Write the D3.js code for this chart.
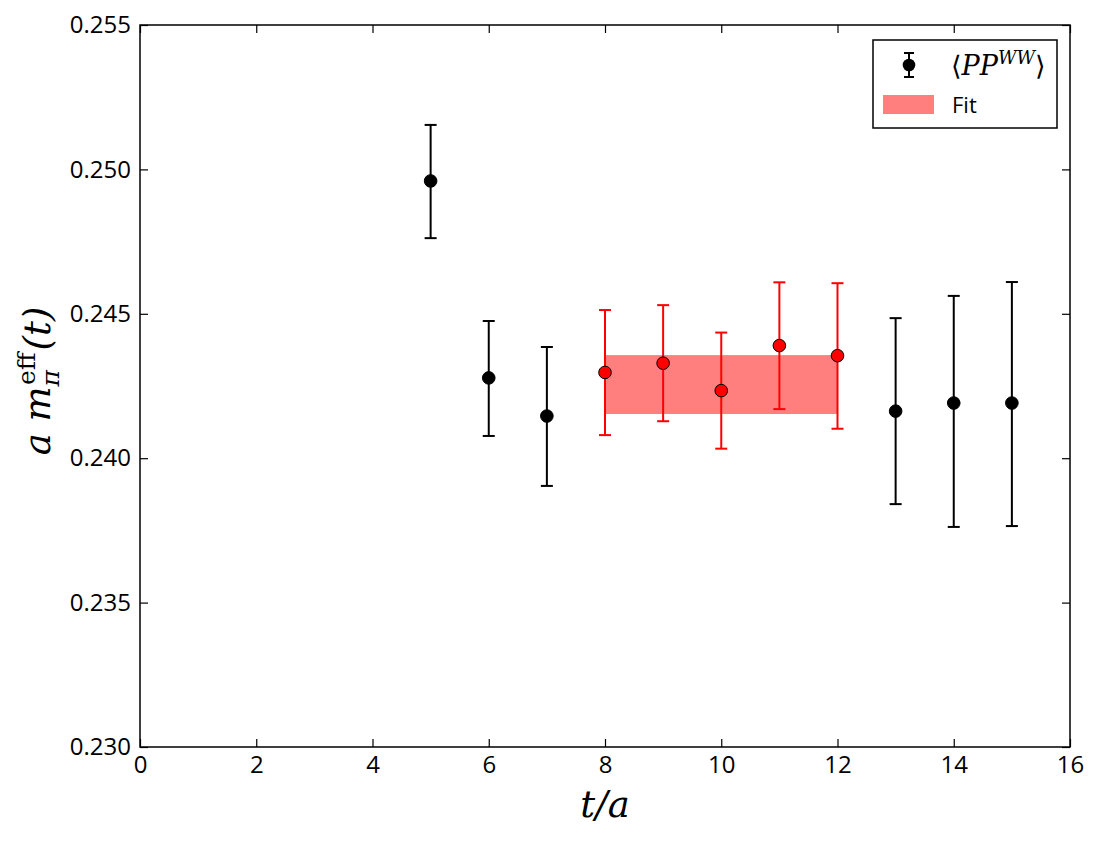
<!DOCTYPE html>
<html>
<head>
<meta charset="utf-8">
<script src="https://cdn.jsdelivr.net/npm/d3@7"></script>
<style>
  body { margin: 0; background: #fff; }
  svg text { font-family: "Open Sans", "DejaVu Sans", sans-serif; }
  .math { font-family: "DejaVu Serif", "Liberation Serif", serif; font-style: italic; }
</style>
</head>
<body>
<div id="chart"></div>
<script>
// data
const tAll = [5, 6, 7, 8, 9, 10, 11, 12, 13, 14, 15];
const meff = [0.2496, 0.24278, 0.24146, 0.24297, 0.24329, 0.24234, 0.2439, 0.24355, 0.24163, 0.24191, 0.24191];
const errLo = [0.00198, 0.00201, 0.00242, 0.00217, 0.00201, 0.00201, 0.0022, 0.00253, 0.00322, 0.00429, 0.00426];
const errHi = [0.00194, 0.00197, 0.00239, 0.00216, 0.00201, 0.00201, 0.00219, 0.00251, 0.00322, 0.00371, 0.00419];
const fitRange = [8, 12];
const fitBand = [0.24153, 0.24357];
const xTicks = [0, 2, 4, 6, 8, 10, 12, 14, 16];
const yTicks = [0.230, 0.235, 0.240, 0.245, 0.250, 0.255];

const W = 1100, H = 845;
const margin = { top: 25, right: 30, bottom: 98, left: 140 };
const width = W - margin.left - margin.right;
const height = H - margin.top - margin.bottom;

const svg = d3.select("#chart").append("svg")
  .attr("width", W).attr("height", H);
const g = svg.append("g").attr("transform", `translate(${margin.left},${margin.top})`);

const x = d3.scaleLinear().domain([0, 16]).range([0, width]);
const y = d3.scaleLinear().domain([0.230, 0.255]).range([height, 0]);

const points = tAll.map((t, i) => ({
  t, v: meff[i], lo: meff[i] - errLo[i], hi: meff[i] + errHi[i],
  inFit: t >= fitRange[0] && t <= fitRange[1]
}));

// fit band
g.append("rect")
  .attr("x", x(fitRange[0]))
  .attr("y", y(fitBand[1]))
  .attr("width", x(fitRange[1]) - x(fitRange[0]))
  .attr("height", y(fitBand[0]) - y(fitBand[1]))
  .attr("fill", "#ff0000").attr("fill-opacity", 0.5);

// error bars
const capW = 6;
const eb = g.selectAll(".eb").data(points).enter().append("g")
  .attr("stroke", d => d.inFit ? "#ff0000" : "#000")
  .attr("stroke-width", 2);
eb.append("line")
  .attr("x1", d => x(d.t)).attr("x2", d => x(d.t))
  .attr("y1", d => y(d.lo)).attr("y2", d => y(d.hi));
eb.append("line")
  .attr("x1", d => x(d.t) - capW).attr("x2", d => x(d.t) + capW)
  .attr("y1", d => y(d.lo)).attr("y2", d => y(d.lo));
eb.append("line")
  .attr("x1", d => x(d.t) - capW).attr("x2", d => x(d.t) + capW)
  .attr("y1", d => y(d.hi)).attr("y2", d => y(d.hi));

g.selectAll(".pt").data(points).enter().append("circle")
  .attr("cx", d => x(d.t)).attr("cy", d => y(d.v))
  .attr("r", 6.3)
  .attr("fill", d => d.inFit ? "#ff0000" : "#000")
  .attr("stroke", "#000").attr("stroke-width", 1);

// axes: inward ticks on all four sides
const tickLen = 8;
const styleAxis = sel => {
  sel.select(".domain").remove();
  sel.selectAll("line").attr("stroke", "#000").attr("stroke-width", 1.2);
  sel.selectAll("text").attr("fill", "#000").style("font-size", "24px");
};
g.append("g").attr("transform", `translate(0,${height})`)
  .call(d3.axisBottom(x).tickValues(xTicks).tickSize(-tickLen).tickPadding(9).tickFormat(d3.format("d")))
  .call(styleAxis);
g.append("g")
  .call(d3.axisTop(x).tickValues(xTicks).tickSize(-tickLen).tickFormat(""))
  .call(styleAxis);
g.append("g")
  .call(d3.axisLeft(y).tickValues(yTicks).tickSize(-tickLen).tickPadding(9).tickFormat(d3.format(".3f")))
  .call(styleAxis);
g.append("g").attr("transform", `translate(${width},0)`)
  .call(d3.axisRight(y).tickValues(yTicks).tickSize(-tickLen).tickFormat(""))
  .call(styleAxis);

// frame
g.append("rect").attr("width", width).attr("height", height)
  .attr("fill", "none").attr("stroke", "#000").attr("stroke-width", 1.5);

// axis labels
svg.append("text").attr("class", "math")
  .attr("x", margin.left + width / 2).attr("y", 817)
  .attr("text-anchor", "middle").style("font-size", "37px")
  .text("t/a");

const yl = svg.append("text").attr("class", "math")
  .attr("transform", `translate(50,381) rotate(-90)`)
  .attr("text-anchor", "middle").style("font-size", "37px");
yl.append("tspan").text("a m");
yl.append("tspan").attr("dy", 9).style("font-size", "25px").text("π");
yl.append("tspan").attr("dx", -15).attr("dy", -24).style("font-size", "25px").style("font-style", "normal").text("eff");
yl.append("tspan").attr("dx", 2).attr("dy", 15).text("(t)");

// legend
const lg = svg.append("g").attr("transform", "translate(873,40)");
lg.append("rect").attr("width", 184).attr("height", 88)
  .attr("fill", "#fff").attr("stroke", "#000").attr("stroke-width", 1.5);
lg.append("line").attr("x1", 36).attr("x2", 36).attr("y1", 13).attr("y2", 37)
  .attr("stroke", "#000").attr("stroke-width", 2);
[13, 37].forEach(yy => lg.append("line").attr("x1", 31).attr("x2", 41).attr("y1", yy).attr("y2", yy)
  .attr("stroke", "#000").attr("stroke-width", 2));
lg.append("circle").attr("cx", 36).attr("cy", 25).attr("r", 6.3).attr("fill", "#000");
const lt = lg.append("text").attr("x", 78).attr("y", 35).style("font-size", "27px");
lt.append("tspan").style("font-family", "DejaVu Serif, serif").text("⟨");
lt.append("tspan").attr("class", "math").text("PP");
lt.append("tspan").attr("class", "math").attr("dy", -11).style("font-size", "18px").text("WW");
lt.append("tspan").attr("dy", 11).style("font-family", "DejaVu Serif, serif").text("⟩");
lg.append("rect").attr("x", 10).attr("y", 55).attr("width", 51).attr("height", 19)
  .attr("fill", "#ff0000").attr("fill-opacity", 0.5);
lg.append("text").attr("x", 79).attr("y", 73).style("font-size", "22px").text("Fit");
</script>
</body>
</html>
